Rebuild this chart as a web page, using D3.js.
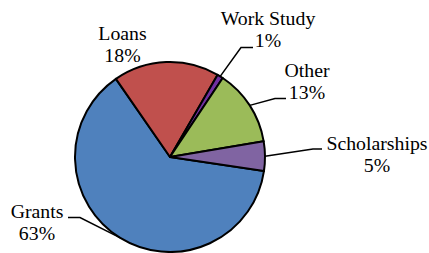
<!DOCTYPE html>
<html><head><meta charset="utf-8">
<script src="https://cdn.jsdelivr.net/npm/d3@7"></script>
<style>html,body{margin:0;padding:0;background:#fff;}svg{display:block;}</style>
</head><body>
<svg id="c" width="429" height="253"></svg>
<script>
const categories = ["Grants", "Loans", "Work Study", "Other", "Scholarships"];
const values = [63, 18, 1, 13, 5];
const percentLabels = ["63%", "18%", "1%", "13%", "5%"];
const colors = ["#4F81BD", "#C0504D", "#7030A0", "#9BBB59", "#8064A2"];

// layout (label text centers / baselines, leader elbows)
const labelPos = [
  {x: 37, y: 218, elbow: [80, 217.5], end: [68, 217.5]},
  {x: 122.5, y: 40, elbow: null},
  {x: 268, y: 25, elbow: [241, 47.5], end: [253, 47.5]},
  {x: 307, y: 77, elbow: [275, 98.5], end: [286, 98.5]},
  {x: 377, y: 150, elbow: [313, 149], end: [322, 149]}
];

const svg = d3.select("#c");
const cx = 170, cy = 157, r = 95;
const startDeg = 98.5;
const pie = d3.pie().sort(null).value(d => d)
  .startAngle(startDeg * Math.PI / 180)
  .endAngle((startDeg + 360) * Math.PI / 180);
const arcs = pie(values);
const arc = d3.arc().innerRadius(0).outerRadius(r);

const g = svg.append("g").attr("transform", `translate(${cx},${cy})`);
g.selectAll("path.slice").data(arcs).enter().append("path")
  .attr("class", "slice")
  .attr("d", arc)
  .attr("fill", (d, i) => colors[i])
  .attr("stroke", "#000")
  .attr("stroke-width", 2)
  .attr("stroke-linejoin", "round");

// leader lines
arcs.forEach((a, i) => {
  const lp = labelPos[i];
  if (!lp.elbow) return;
  const mid = (a.startAngle + a.endAngle) / 2;
  const sx = cx + r * Math.sin(mid), sy = cy - r * Math.cos(mid);
  svg.append("path")
    .attr("d", d3.line()([[sx, sy], lp.elbow, lp.end]))
    .attr("fill", "none").attr("stroke", "#000").attr("stroke-width", 1.5);
});

// labels
categories.forEach((c, i) => {
  const lp = labelPos[i];
  [c, percentLabels[i]].forEach((s, k) => {
    svg.append("text")
      .attr("x", lp.x).attr("y", lp.y + k * 22)
      .attr("text-anchor", "middle")
      .style("font-family", '"Liberation Serif"')
      .style("font-size", "19.8px")
      .text(s);
  });
});
</script>
</body></html>
